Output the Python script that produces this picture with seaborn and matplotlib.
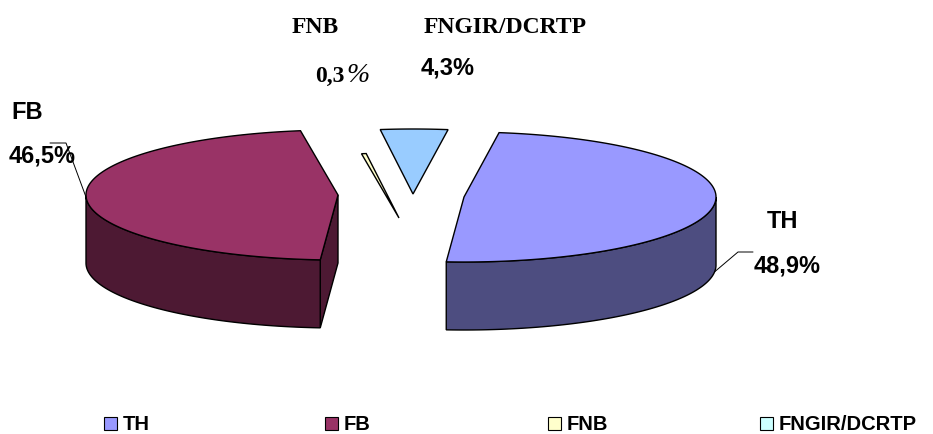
import numpy as np
import matplotlib
matplotlib.use("Agg")
import matplotlib.pyplot as plt
from matplotlib.patches import Polygon, Rectangle
import seaborn as sns

# ---- data ----
categories = ["TH", "FB", "FNB", "FNGIR/DCRTP"]
shares = [48.9, 46.5, 0.3, 4.3]
value_labels = ["48,9%", "46,5%", "0,3%", "4,3%"]

# ---- styling ----
top_colors = ["#9999FF", "#993366", "#FFFFCC", "#99CCFF"]
side_colors = ["#4D4D80", "#4D1933", "#7A7A60", "#4D6680"]
legend_colors = ["#9999FF", "#993366", "#FFFFCC", "#CCFFFF"]

sns.set_theme(style="white")
plt.rcParams["font.family"] = ["Liberation Sans", "DejaVu Sans"]

W, H = 933, 434
fig = plt.figure(figsize=(W / 100, H / 100), dpi=100)
ax = fig.add_axes([0, 0, 1, 1])
ax.set_xlim(0, W)
ax.set_ylim(H, 0)
ax.axis("off")

# pie geometry (screen units), oblique view of a short cylinder
RX, RY, DEPTH = 252, 65, 68
CENTER = np.array([401.0, 196.0])
START = 8.0                      # first slice angle, clockwise from 12 o'clock
explode = [(63, 1), (-63, -1), (-2, 22), (12, -2)]
thickness = [DEPTH, DEPTH, 0, 0]
EDGE = dict(ec="black", lw=1.0, joinstyle="miter")


def rim(c, theta, z=0.0):
    t = np.radians(np.atleast_1d(theta))
    return np.column_stack([c[0] + RX * np.sin(t), c[1] - RY * np.cos(t) + z])


fracs = np.asarray(shares) / np.sum(shares)
bounds = START + 360.0 * np.concatenate([[0.0], np.cumsum(fracs)])
centers = [CENTER + np.array(e, float) for e in explode]

# back slivers first, front slices last
for i in [2, 3, 1, 0]:
    t0, t1 = bounds[i], bounds[i + 1]
    c = centers[i]
    d = thickness[i]
    n = max(int((t1 - t0) * 2), 2)
    arc = np.linspace(t0, t1, n)
    if d > 0:
        # radial cut faces turned toward the viewer
        if np.sin(np.radians(t0)) < 0:
            p = rim(c, t0)[0]
            ax.add_patch(Polygon([c, p, p + [0, d], c + [0, d]], closed=True,
                                 fc=side_colors[i], **EDGE))
        if np.sin(np.radians(t1)) > 0:
            p = rim(c, t1)[0]
            ax.add_patch(Polygon([c, p, p + [0, d], c + [0, d]], closed=True,
                                 fc=side_colors[i], **EDGE))
        # front part of the outer wall
        lo, hi = max(t0, 90.0), min(t1, 270.0)
        if hi > lo:
            wa = np.linspace(lo, hi, max(int((hi - lo) * 2), 2))
            wall = np.vstack([rim(c, wa), rim(c, wa[::-1], d)])
            ax.add_patch(Polygon(wall, closed=True, fc=side_colors[i], **EDGE))
    top = np.vstack([c[None, :], rim(c, arc)])
    ax.add_patch(Polygon(top, closed=True, fc=top_colors[i], **EDGE))

# ---- labels ----
sans = dict(family=["Liberation Sans", "DejaVu Sans"], weight="bold", size=17,
            color="black", va="baseline", ha="left")
serif = dict(family=["Liberation Serif", "DejaVu Serif"], weight="bold", size=17,
             color="black", va="baseline", ha="left")

# TH
ax.text(767, 228, categories[0], **sans)
ax.text(754, 272, value_labels[0], **sans)
m = (bounds[0] + bounds[1]) / 2
p = rim(centers[0], m, DEPTH)[0]
ax.plot([p[0], 738, 753], [p[1], 252, 252], color="black", lw=0.7)

# FB
ax.text(11, 119, categories[1], **sans)
ax.text(9, 163, value_labels[1], **sans)
m = (bounds[1] + bounds[2]) / 2
p = rim(centers[1], m)[0]
ax.plot([p[0], 66, 50], [p[1], 143, 143], color="black", lw=0.7)

# FNB
ax.text(292, 33, categories[2], **serif)
num, pct = value_labels[2][:-1], value_labels[2][-1]
ax.text(345, 82, num, **{**serif, "ha": "right"})
ax.text(346, 82, pct, family=["Liberation Serif", "DejaVu Serif"], style="italic",
        size=20, color="black", va="baseline", ha="left")

# FNGIR/DCRTP
ax.text(424, 33, categories[3], **serif)
ax.text(421, 75, value_labels[3], **sans)

# ---- legend ----
leg_x = [104, 325, 548, 760]
for name, col, x0 in zip(categories, legend_colors, leg_x):
    ax.add_patch(Rectangle((x0, 417), 13, 13, fc=col, ec="black", lw=0.8))
    ax.text(x0 + 19, 430, name, family=["Liberation Sans", "DejaVu Sans"],
            weight="bold", size=14.5, color="black", va="baseline", ha="left")

fig.savefig("out.png", dpi=100, facecolor="white")
